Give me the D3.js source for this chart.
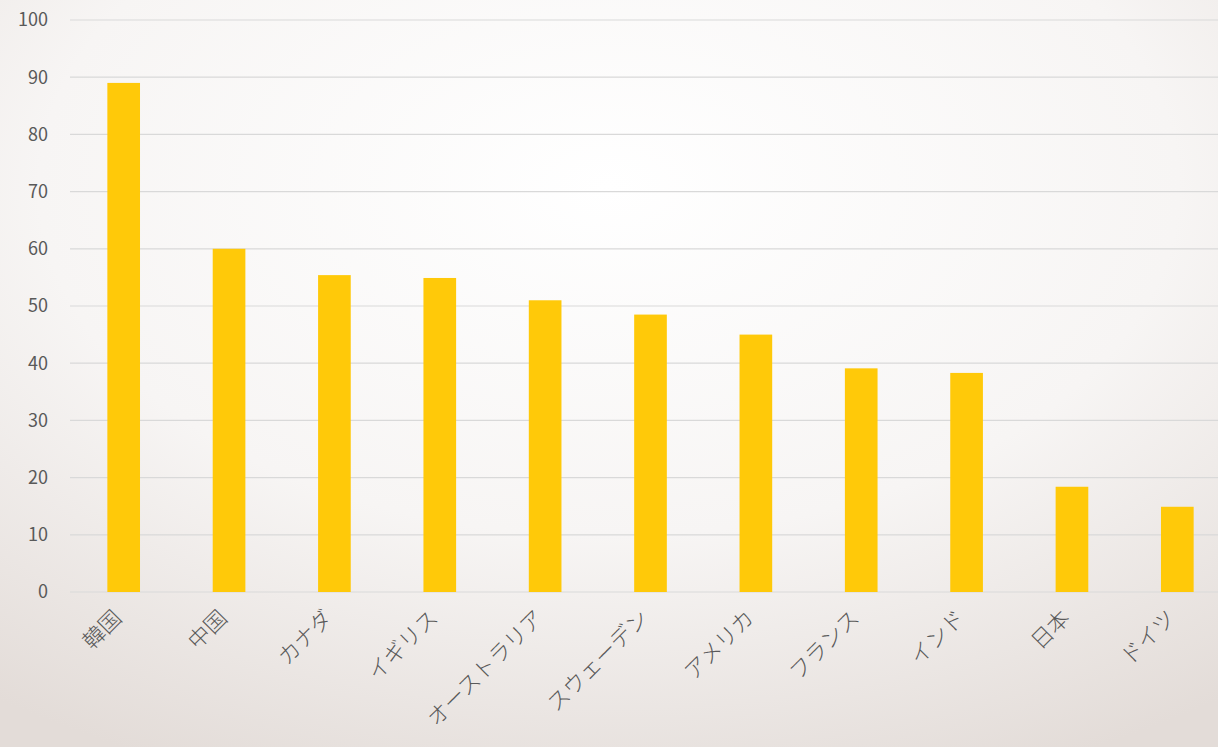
<!DOCTYPE html>
<html lang="ja">
<head>
<meta charset="UTF-8" />
<style>
  body { margin: 0; }
  svg { display: block; }
</style>
<script src="https://cdn.jsdelivr.net/npm/d3@7"></script>
</head>
<body>
<svg id="chart" width="1218" height="747"></svg>
<script>
const categories = ["韓国", "中国", "カナダ", "イギリス", "オーストラリア", "スウェーデン", "アメリカ", "フランス", "インド", "日本", "ドイツ"];
const values = [89, 60, 55.4, 54.9, 51, 48.5, 45, 39.1, 38.3, 18.4, 14.9];
const yTicks = [0, 10, 20, 30, 40, 50, 60, 70, 80, 90, 100];

const W = 1218, H = 747;
const svg = d3.select("#chart");
const font = "'Noto Sans CJK JP', 'Noto Sans', sans-serif";

// background
const defs = svg.append("defs");
const grad = defs.append("radialGradient").attr("id", "bg")
  .attr("cx", "50%").attr("cy", "25%").attr("r", "85%");
grad.append("stop").attr("offset", "0%").attr("stop-color", "#ffffff");
grad.append("stop").attr("offset", "55%").attr("stop-color", "#f7f5f4");
grad.append("stop").attr("offset", "100%").attr("stop-color", "#e3dcd8");
svg.append("rect").attr("width", W).attr("height", H).attr("fill", "url(#bg)");

const x = d3.scaleBand().domain(categories).range([71, 1230]).paddingInner(0.69).paddingOuter(0.345);
const y = d3.scaleLinear().domain([0, 100]).range([592, 20]);

// grid
svg.append("g").selectAll("line").data(yTicks).enter().append("line")
  .attr("x1", 70).attr("x2", W)
  .attr("y1", d => y(d)).attr("y2", d => y(d))
  .attr("stroke", "#d9d9d9").attr("stroke-width", 1.2);

// y labels
svg.append("g").selectAll("text").data(yTicks).enter().append("text")
  .attr("x", 48).attr("y", d => y(d)).attr("dy", "0.35em")
  .attr("text-anchor", "end").attr("fill", "#595959")
  .attr("font-family", font).attr("font-size", 18).text(d => d);

// x labels
svg.append("g").selectAll("text").data(categories).enter().append("text")
  .attr("transform", d => `translate(${x(d) + x.bandwidth() / 2 - 6},${614}) rotate(-45)`)
  .attr("text-anchor", "end").attr("dy", "0.35em")
  .attr("fill", "#595959").attr("font-family", font).attr("font-weight", 300)
  .attr("font-size", 22).text(d => d);

// bars
svg.append("g").selectAll("rect").data(values).enter().append("rect")
  .attr("x", (d, i) => x(categories[i]))
  .attr("width", x.bandwidth())
  .attr("y", d => y(d))
  .attr("height", d => y(0) - y(d))
  .attr("fill", "#ffc909");
</script>
</body>
</html>
